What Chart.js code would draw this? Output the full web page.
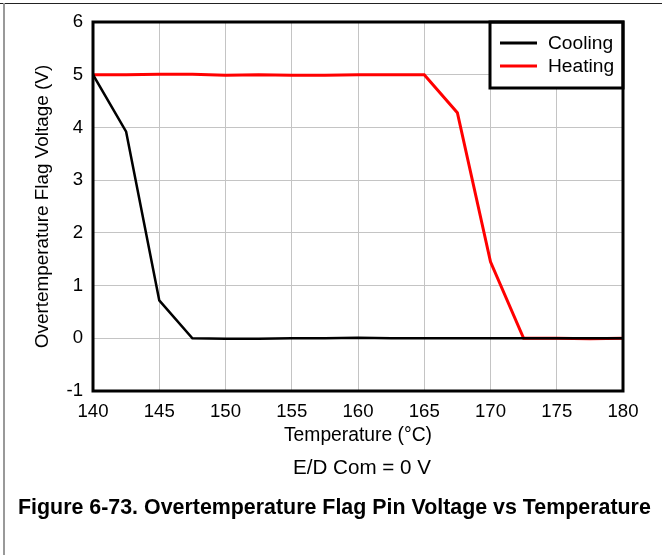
<!DOCTYPE html>
<html>
<head>
<meta charset="utf-8">
<script src="https://cdn.jsdelivr.net/npm/chart.js@4.4.0/dist/chart.umd.min.js"></script>
<style>
  html, body { margin: 0; padding: 0; background: #fff; }
  #wrap { position: relative; width: 662px; height: 555px; overflow: hidden; font-family: "Liberation Sans", Arial, sans-serif; }
  #topline { position: absolute; left: 0; top: 3px; width: 662px; height: 1px; background: #222; }
  #leftline { position: absolute; left: 3px; top: 3px; width: 2px; height: 552px; background: #999; }
  #chart { position: absolute; left: 0; top: 0; }
  .cap { position: absolute; white-space: nowrap; color: #000; }
  #cond { left: 0; width: 724px; text-align: center; top: 455px; font-size: 20.6px; }
  #fig { left: 18px; top: 495px; font-size: 21.4px; font-weight: bold; }
</style>
</head>
<body>
<div id="wrap">
  <canvas id="chart" width="662" height="555"></canvas>
  <div id="topline"></div>
  <div id="leftline"></div>
  <div class="cap" id="cond">E/D Com = 0 V</div>
  <div class="cap" id="fig">Figure 6-73. Overtemperature Flag Pin Voltage vs Temperature</div>
</div>
<script>
// temperatura (°C) a cada 2,5 graus
const temps = [140, 142.5, 145, 147.5, 150, 152.5, 155, 157.5, 160, 162.5, 165, 167.5, 170, 172.5, 175, 177.5, 180];
const cooling = [5.0, 3.92, 0.72, 0.0, -0.01, -0.01, 0.0, 0.0, 0.01, 0.0, 0.0, 0.0, 0.0, 0.0, 0.0, 0.0, 0.0];
const heating = [5.0, 5.0, 5.01, 5.01, 4.99, 5.0, 4.99, 4.99, 5.0, 5.0, 5.0, 4.28, 1.45, 0.0, 0.0, -0.01, 0.0];
const seriesNames = ['Cooling', 'Heating'];
const seriesColors = ['#000000', '#ff0000'];

const FONT = '"Liberation Sans", Arial, sans-serif';

function toPoints(vals) {
    return temps.map((t, i) => ({ x: t, y: vals[i] }));
}

// moldura da área do gráfico e legenda dentro do gráfico
const framePlugin = {
    id: 'frame',
    afterDraw(chart) {
        const ctx = chart.ctx;
        const a = chart.chartArea;
        ctx.save();
        // legenda
        const lx = 490, ly = a.top, lw = a.right - 490, lh = 66;
        ctx.fillStyle = '#fff';
        ctx.fillRect(lx, ly, lw, lh);
        ctx.strokeStyle = '#000';
        ctx.lineWidth = 3;
        ctx.strokeRect(lx, ly, lw, lh);
        ctx.font = '19.2px ' + FONT;
        ctx.textBaseline = 'middle';
        ctx.textAlign = 'left';
        seriesNames.forEach((name, i) => {
            const y = ly + 21 + i * 23;
            ctx.strokeStyle = seriesColors[i];
            ctx.lineWidth = 3;
            ctx.beginPath();
            ctx.moveTo(500, y);
            ctx.lineTo(537, y);
            ctx.stroke();
            ctx.fillStyle = '#000';
            ctx.fillText(name, 548, y + 1);
        });
        // borda
        ctx.strokeStyle = '#000';
        ctx.lineWidth = 3;
        ctx.strokeRect(a.left, a.top, a.right - a.left, a.bottom - a.top);
        ctx.restore();
    }
};

let ctx = document.getElementById('chart').getContext('2d');
let flagChart = new Chart(ctx, {
    type: 'line',
    data: {
        datasets: [{
            label: seriesNames[0],
            data: toPoints(cooling),
            borderColor: seriesColors[0],
            borderWidth: 2.5,
            pointRadius: 0,
            tension: 0
        }, {
            label: seriesNames[1],
            data: toPoints(heating),
            borderColor: seriesColors[1],
            borderWidth: 3,
            pointRadius: 0,
            tension: 0
        }]
    },
    options: {
        responsive: false,
        animation: false,
        layout: { padding: { left: 31, top: 22, right: 39, bottom: 108 } },
        plugins: {
            legend: { display: false },
            tooltip: { enabled: false }
        },
        scales: {
            x: {
                type: 'linear',
                min: 140,
                max: 180,
                afterFit(scale) { scale.height = 56; },
                ticks: { stepSize: 5, color: '#000', padding: 10, font: { family: FONT, size: 18.6 } },
                grid: { color: '#c4c4c4', lineWidth: 1, drawTicks: false },
                border: { display: false },
                title: { display: true, text: 'Temperature (°C)', color: '#000', padding: 0, font: { family: FONT, size: 19.3 } }
            },
            y: {
                min: -1,
                max: 6,
                afterFit(scale) { scale.width = 62; },
                ticks: { stepSize: 1, color: '#000', padding: 10, font: { family: FONT, size: 18.6 } },
                grid: { color: '#c4c4c4', lineWidth: 1, drawTicks: false },
                border: { display: false },
                title: { display: true, text: 'Overtemperature Flag Voltage (V)', color: '#000', padding: 0, font: { family: FONT, size: 18.9 } }
            }
        }
    },
    plugins: [framePlugin]
});
</script>
</body>
</html>
